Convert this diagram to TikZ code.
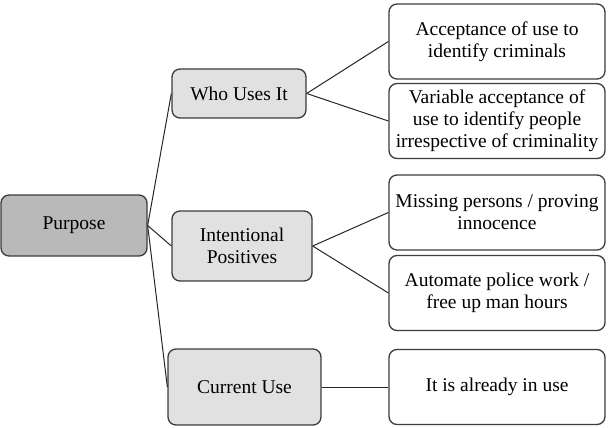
\documentclass[tikz,border=0pt]{standalone}
\usepackage{fontspec}
\setmainfont{Liberation Serif}
\usetikzlibrary{positioning}
\definecolor{rootgray}{HTML}{B9B9B9}
\definecolor{midgray}{HTML}{E1E1E1}
\definecolor{edgegray}{HTML}{3C3C3C}

\begin{document}
\begin{tikzpicture}[
		x=1pt, y=-1pt,
		font=\fontspec{Liberation Serif}\fontsize{19.5}{22}\selectfont,
		box/.style={draw=edgegray, line width=1.3pt, rounded corners=8pt, align=center, inner sep=2pt},
		root/.style={box, fill=rootgray, minimum width=146pt, minimum height=61pt},
		branch/.style={box, fill=midgray},
		leaf/.style={box, fill=white, minimum width=216pt, minimum height=75pt},
		link/.style={draw=black!85, line width=1pt}
		]
		\useasboundingbox (0,0) rectangle (608,428);
		% root and branches
		\node[root] (purpose) at (74,225.5) {Purpose};
		\node[branch, minimum width=134pt, minimum height=49pt] (who) at (239,93.5) {Who Uses It};
		\node[branch, minimum width=140pt, minimum height=70pt] (intent) at (242,246) {Intentional\\Positives};
		\node[branch, minimum width=153pt, minimum height=76pt] (current) at (244.5,387) {Current Use};
		% leaves
		\node[leaf] (criminals) at (497,41.5) {Acceptance of use to\\identify criminals};
		\node[leaf] (anyone) at (497,121) {Variable acceptance of\\use to identify people\\irrespective of criminality};
		\node[leaf] (missing) at (497,212.5) {Missing persons / proving\\innocence};
		\node[leaf] (automate) at (497,293) {Automate police work /\\free up man hours};
		\node[leaf] (inuse) at (497,387) {It is already in use};
		% connectors
		\foreach \n in {who,intent,current} {\draw[link] (purpose.east) -- (\n.west);}
		\foreach \n in {criminals,anyone} {\draw[link] (who.east) -- (\n.west);}
		\foreach \n in {missing,automate} {\draw[link] (intent.east) -- (\n.west);}
		\draw[link] (current.east) -- (inuse.west);
	\end{tikzpicture}
\end{document}
